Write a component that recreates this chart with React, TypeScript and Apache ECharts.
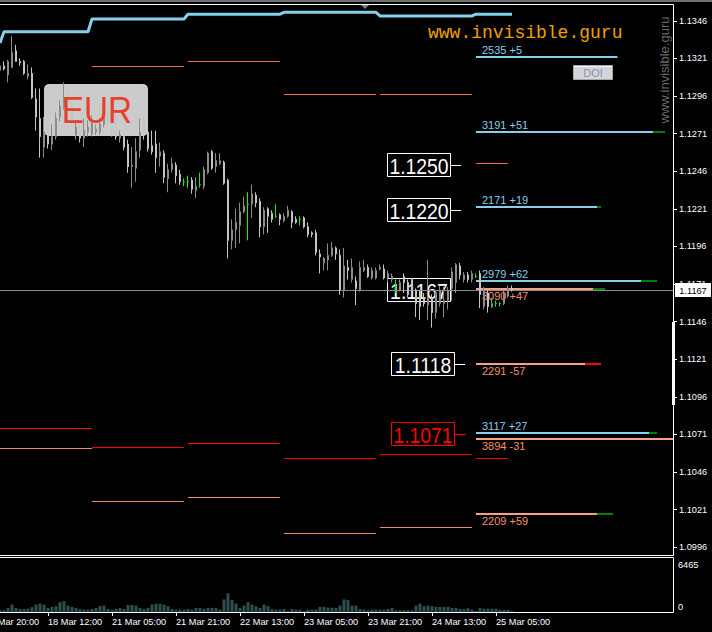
import React, { useEffect, useRef } from 'react';
import * as echarts from 'echarts';

// ---------- price bars (H1) ----------
const OPEN = [1.1313,1.1316,1.1310,1.1315,1.1326,1.1319,1.1319,1.1309,1.1311,1.1294,
 1.1281,1.1262,1.1271,1.1264,1.1269,1.1282,1.1289,1.1296,1.1290,1.1270,
 1.1273,1.1268,1.1272,1.1271,1.1272,1.1272,1.1277,1.1282,1.1279,1.1271,
 1.1268,1.1269,1.1264,1.1249,1.1248,1.1260,1.1280,1.1272,1.1263,1.1264,
 1.1256,1.1258,1.1241,1.1247,1.1250,1.1244,1.1239,1.1239,1.1240,1.1233,
 1.1237,1.1236,1.1245,1.1259,1.1249,1.1251,1.1252,1.1240,1.1200,1.1207,
 1.1210,1.1219,1.1224,1.1224,1.1230,1.1226,1.1209,1.1221,1.1218,1.1216,
 1.1217,1.1213,1.1216,1.1219,1.1214,1.1214,1.1215,1.1209,1.1205,1.1205,
 1.1191,1.1185,1.1187,1.1190,1.1195,1.1190,1.1167,1.1182,1.1174,1.1173,
 1.1167,1.1180,1.1182,1.1175,1.1175,1.1181,1.1181,1.1175,1.1174,1.1169,
 1.1167,1.1176,1.1172,1.1174,1.1167,1.1165,1.1162,1.1157,1.1162,1.1152,
 1.1158,1.1158,1.1160,1.1168,1.1172,1.1183,1.1174,1.1177,1.1174,1.1176,
 1.1178,1.1156,1.1165,1.1156,1.1158,1.1158,1.1158,1.1163,1.1168];
const CLOSE = [1.1316,1.1314,1.1319,1.1325,1.1319,1.1318,1.1311,1.1311,1.1295,1.1282,
 1.1269,1.1272,1.1264,1.1269,1.1281,1.1289,1.1295,1.1287,1.1278,1.1275,
 1.1268,1.1273,1.1275,1.1279,1.1274,1.1277,1.1281,1.1280,1.1271,1.1269,
 1.1270,1.1262,1.1249,1.1250,1.1259,1.1272,1.1270,1.1261,1.1259,1.1255,
 1.1259,1.1242,1.1247,1.1251,1.1243,1.1239,1.1239,1.1239,1.1234,1.1236,
 1.1237,1.1247,1.1258,1.1248,1.1253,1.1253,1.1238,1.1200,1.1207,1.1212,
 1.1219,1.1223,1.1224,1.1231,1.1225,1.1209,1.1220,1.1216,1.1214,1.1216,
 1.1214,1.1216,1.1220,1.1212,1.1212,1.1214,1.1209,1.1204,1.1204,1.1192,
 1.1189,1.1188,1.1190,1.1195,1.1191,1.1167,1.1183,1.1180,1.1182,1.1168,
 1.1182,1.1182,1.1176,1.1180,1.1180,1.1182,1.1175,1.1178,1.1176,1.1169,
 1.1172,1.1172,1.1164,1.1167,1.1158,1.1156,1.1158,1.1162,1.1152,1.1165,
 1.1167,1.1160,1.1167,1.1179,1.1184,1.1177,1.1177,1.1174,1.1178,1.1176,
 1.1164,1.1167,1.1156,1.1158,1.1158,1.1158,1.1165,1.1168,1.1167];
const LOW = [1.1312,1.1313,1.1305,1.1315,1.1319,1.1316,1.1310,1.1307,1.1294,1.1273,
 1.1255,1.1255,1.1261,1.1260,1.1267,1.1279,1.1287,1.1285,1.1276,1.1267,
 1.1265,1.1262,1.1269,1.1269,1.1270,1.1270,1.1275,1.1277,1.1269,1.1267,
 1.1265,1.1260,1.1245,1.1235,1.1239,1.1255,1.1267,1.1259,1.1257,1.1245,
 1.1249,1.1238,1.1232,1.1245,1.1238,1.1237,1.1236,1.1235,1.1231,1.1228,
 1.1235,1.1234,1.1244,1.1247,1.1245,1.1250,1.1237,1.1188,1.1194,1.1195,
 1.1198,1.1218,1.1200,1.1215,1.1222,1.1202,1.1204,1.1205,1.1212,1.1215,
 1.1210,1.1212,1.1215,1.1208,1.1211,1.1210,1.1208,1.1202,1.1202,1.1190,
 1.1178,1.1180,1.1180,1.1189,1.1187,1.1164,1.1162,1.1174,1.1172,1.1157,
 1.1166,1.1179,1.1175,1.1174,1.1174,1.1180,1.1174,1.1172,1.1172,1.1165,
 1.1166,1.1165,1.1162,1.1165,1.1149,1.1147,1.1156,1.1147,1.1142,1.1148,
 1.1156,1.1149,1.1154,1.1160,1.1165,1.1174,1.1172,1.1172,1.1172,1.1175,
 1.1155,1.1154,1.1152,1.1155,1.1156,1.1156,1.1157,1.1162,1.1166];
const HIGH = [1.1318,1.1319,1.1320,1.1336,1.1330,1.1321,1.1320,1.1317,1.1315,1.1301,
 1.1301,1.1282,1.1277,1.1277,1.1285,1.1293,1.1305,1.1300,1.1293,1.1280,
 1.1277,1.1281,1.1280,1.1283,1.1277,1.1281,1.1285,1.1287,1.1281,1.1283,
 1.1273,1.1271,1.1267,1.1262,1.1268,1.1281,1.1283,1.1275,1.1273,1.1273,
 1.1265,1.1260,1.1251,1.1255,1.1252,1.1247,1.1241,1.1243,1.1242,1.1242,
 1.1245,1.1249,1.1259,1.1260,1.1258,1.1258,1.1253,1.1241,1.1214,1.1221,
 1.1225,1.1229,1.1232,1.1237,1.1232,1.1228,1.1222,1.1222,1.1220,1.1224,
 1.1218,1.1218,1.1223,1.1220,1.1216,1.1216,1.1216,1.1212,1.1206,1.1207,
 1.1194,1.1189,1.1198,1.1199,1.1196,1.1194,1.1195,1.1187,1.1188,1.1176,
 1.1186,1.1187,1.1184,1.1182,1.1182,1.1184,1.1184,1.1180,1.1178,1.1174,
 1.1174,1.1178,1.1174,1.1175,1.1168,1.1167,1.1165,1.1187,1.1164,1.1167,
 1.1170,1.1169,1.1169,1.1182,1.1185,1.1185,1.1179,1.1179,1.1180,1.1178,
 1.1180,1.1169,1.1167,1.1162,1.1160,1.1159,1.1167,1.1170,1.1170];
const VOLUME = [280,210,490,890,490,370,370,400,570,890,
 1010,890,490,610,700,1180,1300,770,610,490,
 370,280,280,370,490,700,770,370,280,370,
 490,370,850,850,770,490,370,490,890,1010,
 980,890,700,370,280,280,280,370,280,490,
 490,400,490,490,490,280,1500,2230,1430,1010,
 490,770,1180,890,700,490,890,700,370,280,
 280,370,120,370,280,280,120,280,280,280,
 610,610,520,520,490,770,1500,1430,770,770,
 370,280,210,280,280,280,280,370,490,210,
 210,210,210,210,770,1010,700,770,700,610,
 610,610,610,490,490,370,370,450,280,120,
 490,400,400,400,400,240,240,240,90];

const BID = 1.1167;
const PRICE_MIN = 1.099084;
const PRICE_MAX = 1.135648;
const PRICE_TICKS = [1.0996,1.1021,1.1046,1.1071,1.1096,1.1121,1.1146,1.1171,1.1196,1.1221,1.1246,1.1271,1.1296,1.1321,1.1346];
const VOL_MAX = 6465;
const SLOT_COUNT = 169;
const TIME_LABELS = ['17 Mar 20:00','18 Mar 12:00','21 Mar 05:00','21 Mar 21:00','22 Mar 13:00','23 Mar 05:00','23 Mar 21:00','24 Mar 13:00','25 Mar 05:00'];
const TIME_FIRST = -4;
const TIME_STEP = 16;

// daily high envelope (light blue)
const HIGH_LINE = [[0,1.13312],[1,1.13387],[22,1.13387],[23,1.13472],[46,1.13472],[47,1.13504],[70,1.13504],[71,1.13516],[94,1.13516],[95,1.13492],[118,1.13492],[119,1.13504],[128,1.13504]];

// daily level segments: kind 0 = upper coral, 1 = red, 2 = lower salmon
const SEG_START = [23,47,71,95,119, 0,23,47,71,95,119, 0,23,47,71,95];
const SEG_END   = [46,70,94,118,127, 23,46,70,94,118,127, 23,46,70,94,118];
const SEG_PRICE = [1.13160,1.13193,1.12973,1.12973,1.12515, 1.10753,1.10626,1.10653,1.10553,1.10580,1.10553, 1.10620,1.10267,1.10294,1.10055,1.10095];
const SEG_KIND  = [0,0,0,0,0, 1,1,1,1,1,1, 2,2,2,2,2];
const SEG_COLORS = ['#f06a4c', '#ff0000', '#ec8a66'];

// right-side volume levels
const LEVEL_START = 119;
const LEVEL_PRICE = [1.13219,1.12720,1.12224,1.11727,1.11677,1.11180,1.10721,1.10680,1.10181];
const LEVEL_COUNT = [2535,3191,2171,2979,3090,2291,3117,3894,2209];
const LEVEL_DELTA = [5,51,19,62,47,-57,27,-31,59];
const LEVEL_SIDE  = [0,0,0,0,1,1,0,1,1]; // 0 blue (text above), 1 salmon (text below)
const LEVEL_LEN   = [35.25,44.25,30.25,41.25,29.25,27.25,43.25,49.25,30.25];
const LEVEL_TAIL  = [0.25,3,1,4,3,4,2,0,4];

// boxed price labels
const LABEL_PRICE = [1.1250,1.1220,1.1167,1.1118,1.1071];
const LABEL_IDX = [97,97,97,98,98];
const LABEL_RED = [0,0,0,0,1];

const FONT = '"Liberation Sans", Arial, Helvetica, sans-serif';

export default function App() {
  const ref = useRef<HTMLDivElement>(null);

  useEffect(() => {
    if (!ref.current) return;
    const chart = echarts.init(ref.current, undefined, { renderer: 'svg' });
    const cats = Array.from({ length: SLOT_COUNT }, (_, i) => String(i));
    const timeLabel = (i: number) => {
      const d = i - TIME_FIRST;
      if (d < 0 || d % TIME_STEP !== 0) return '';
      const n = d / TIME_STEP;
      return n < TIME_LABELS.length ? TIME_LABELS[n] : '';
    };
    const hasLabel = (i: number) => timeLabel(i) !== '';

    const doji = { color: '#00ff00', color0: '#00ff00', borderColor: '#00ff00', borderColor0: '#00ff00' };
    const candleData = OPEN.map((o, i) => {
      const item: any = { value: [o, CLOSE[i], LOW[i], HIGH[i]] };
      if (o === CLOSE[i]) item.itemStyle = doji;
      return item;
    });

    const option: any = {
      animation: false,
      backgroundColor: '#000000',
      grid: [
        { left: -2, right: 38, top: 5, height: 550, containLabel: false, outerBoundsMode: 'none' },
        { left: -2, right: 38, top: 558, height: 54, containLabel: false, outerBoundsMode: 'none' },
      ],
      xAxis: [
        { type: 'category', gridIndex: 0, data: cats, boundaryGap: true, show: false },
        {
          type: 'category', gridIndex: 1, data: cats, boundaryGap: true,
          axisLine: { show: false },
          axisTick: { show: true, alignWithLabel: true, interval: (i: number) => hasLabel(i), length: 4, lineStyle: { color: '#ffffff' } },
          axisLabel: {
            interval: (i: number) => hasLabel(i),
            formatter: (_v: string, i: number) => timeLabel(i),
            align: 'left', margin: 5, color: '#ffffff', fontSize: 9.2, fontFamily: FONT,
          },
          splitLine: { show: false },
        },
      ],
      yAxis: [
        {
          type: 'value', gridIndex: 0, position: 'right', min: PRICE_MIN, max: PRICE_MAX, scale: true,
          axisLine: { show: false },
          splitLine: { show: false },
          axisTick: { show: true, length: 3, customValues: PRICE_TICKS, lineStyle: { color: '#ffffff' } },
          axisLabel: {
            customValues: PRICE_TICKS, margin: 5, color: '#ffffff', fontSize: 9.2, fontFamily: FONT,
            formatter: (v: number) => v.toFixed(4),
          },
        },
        { type: 'value', gridIndex: 1, min: 0, max: VOL_MAX, show: false, splitLine: { show: false } },
      ],
      series: [
        {
          type: 'custom', name: 'labels', xAxisIndex: 0, yAxisIndex: 0, z: 1, clip: false,
          data: LABEL_PRICE.map((p, i) => [LABEL_IDX[i], p]),
          encode: { x: 0, y: 1 },
          renderItem: (params: any, api: any) => {
            const i = params.dataIndex;
            const c = api.coord([LABEL_IDX[i], LABEL_PRICE[i]]);
            const left = Math.round(c[0]) - 1;
            const cy = Math.round(c[1]);
            const col = LABEL_RED[i] ? '#ff0000' : '#ffffff';
            return {
              type: 'group',
              children: [
                { type: 'rect', shape: { x: left + 0.5, y: cy - 11.5, width: 63, height: 23 }, style: { fill: 'none', stroke: col, lineWidth: 1 } },
                { type: 'line', shape: { x1: left + 64, y1: cy + 0.5, x2: left + 74, y2: cy + 0.5 }, style: { stroke: col, lineWidth: 1 } },
                { type: 'text', x: left + 32, y: cy + 1, scaleX: 0.88, style: { text: LABEL_PRICE[i].toFixed(4), fill: col, fontSize: 22, fontFamily: FONT, align: 'center', verticalAlign: 'middle' } },
              ],
            };
          },
        },
        {
          type: 'custom', name: 'bidLine', xAxisIndex: 0, yAxisIndex: 0, z: 2, clip: false,
          data: [[0, BID]],
          encode: { x: 0, y: 1 },
          renderItem: (params: any, api: any) => {
            const c = api.coord([0, BID]);
            const y = Math.round(c[1]) + 0.5;
            return { type: 'line', shape: { x1: 0, y1: y, x2: 673, y2: y }, style: { stroke: '#7d8b99', lineWidth: 1 } };
          },
        },
        {
          type: 'custom', name: 'segments', xAxisIndex: 0, yAxisIndex: 0, z: 2, clip: true,
          data: SEG_START.map((s, i) => [s, SEG_END[i], SEG_PRICE[i], SEG_KIND[i]]),
          encode: { x: [0, 1], y: 2 },
          renderItem: (params: any, api: any) => {
            const i = params.dataIndex;
            const a = api.coord([SEG_START[i], SEG_PRICE[i]]);
            const b = api.coord([SEG_END[i], SEG_PRICE[i]]);
            const y = Math.round(a[1]) + 0.5;
            return { type: 'line', shape: { x1: a[0], y1: y, x2: b[0], y2: y }, style: { stroke: SEG_COLORS[SEG_KIND[i]], lineWidth: 1 } };
          },
        },
        {
          type: 'custom', name: 'levels', xAxisIndex: 0, yAxisIndex: 0, z: 2, clip: false,
          data: LEVEL_PRICE.map((p) => [LEVEL_START, p]),
          encode: { x: 0, y: 1 },
          renderItem: (params: any, api: any) => {
            const i = params.dataIndex;
            const c = api.coord([LEVEL_START, LEVEL_PRICE[i]]);
            const bw = api.size([1, 0])[0];
            const y = Math.round(c[1]);
            const x0 = c[0];
            const x1 = x0 + LEVEL_LEN[i] * bw;
            const x2 = x1 + LEVEL_TAIL[i] * bw;
            const blue = LEVEL_SIDE[i] === 0;
            const lineCol = blue ? '#87ceeb' : '#f8a284';
            const textCol = blue ? '#87ceeb' : '#f4906f';
            const d = LEVEL_DELTA[i];
            const children: any[] = [
              { type: 'line', shape: { x1: x0, y1: y, x2: x1, y2: y }, style: { stroke: lineCol, lineWidth: 2 } },
              { type: 'text', x: x0 + 6, y: blue ? y - 7 : y + 7, style: { text: `${LEVEL_COUNT[i]} ${d > 0 ? '+' : ''}${d}`, fill: textCol, fontSize: 11, fontFamily: FONT, align: 'left', verticalAlign: 'middle' } },
            ];
            if (LEVEL_TAIL[i] > 0) {
              children.push({ type: 'line', shape: { x1: x1, y1: y, x2: x2, y2: y }, style: { stroke: d > 0 ? '#008000' : '#ff0000', lineWidth: 2 } });
            }
            return { type: 'group', children };
          },
        },
        {
          type: 'line', name: 'dayHigh', xAxisIndex: 0, yAxisIndex: 0, z: 4,
          data: HIGH_LINE, symbol: 'none', showSymbol: false,
          lineStyle: { color: '#87ceeb', width: 3 },
        },
        {
          type: 'candlestick', name: 'EURUSD', xAxisIndex: 0, yAxisIndex: 0, z: 3,
          barWidth: 2,
          data: candleData,
          itemStyle: { color: '#000000', color0: '#ffffff', borderColor: '#8c8c8c', borderColor0: '#c4c4c4', borderWidth: 1 },
        },
        {
          type: 'bar', name: 'volume', xAxisIndex: 1, yAxisIndex: 1, z: 2,
          data: VOLUME, barWidth: 3, itemStyle: { color: '#2f4f4f' },
        },
        {
          type: 'custom', name: 'bid', xAxisIndex: 0, yAxisIndex: 0, z: 20, clip: false,
          data: [[SLOT_COUNT - 1, BID]],
          encode: { x: 0, y: 1 },
          renderItem: (params: any, api: any) => {
            const c = api.coord([SLOT_COUNT - 1, BID]);
            const right = params.coordSys.x + params.coordSys.width;
            const y = Math.round(c[1]);
            return {
              type: 'group',
              children: [
                { type: 'rect', shape: { x: right + 1, y: y - 7, width: 36, height: 14 }, style: { fill: '#ffffff' } },
                { type: 'text', x: right + 19, y: y + 0.5, style: { text: BID.toFixed(4), fill: '#000000', fontSize: 9.2, fontFamily: FONT, align: 'center', verticalAlign: 'middle' } },
              ],
            };
          },
        },
      ],
      graphic: [
        { type: 'rect', z: 30, shape: { x: 0, y: 0, width: 712, height: 2 }, style: { fill: '#6f6f6f' } },
        { type: 'line', z: 30, shape: { x1: 0, y1: 4.5, x2: 673.5, y2: 4.5 }, style: { stroke: '#ffffff', lineWidth: 1 } },
        { type: 'line', z: 30, shape: { x1: 673.5, y1: 4.5, x2: 673.5, y2: 555.5 }, style: { stroke: '#ffffff', lineWidth: 1 } },
        { type: 'line', z: 30, shape: { x1: 0, y1: 555.5, x2: 673.5, y2: 555.5 }, style: { stroke: '#ffffff', lineWidth: 1 } },
        { type: 'line', z: 30, shape: { x1: 0, y1: 557.5, x2: 673.5, y2: 557.5 }, style: { stroke: '#ffffff', lineWidth: 1 } },
        { type: 'line', z: 30, shape: { x1: 673.5, y1: 557.5, x2: 673.5, y2: 612.5 }, style: { stroke: '#ffffff', lineWidth: 1 } },
        { type: 'line', z: 30, shape: { x1: 0, y1: 612.5, x2: 673.5, y2: 612.5 }, style: { stroke: '#ffffff', lineWidth: 1 } },
        { type: 'rect', z: 30, shape: { x: 672, y: 322, width: 3, height: 83 }, style: { fill: '#ffffff' } },
        { type: 'polygon', z: 30, shape: { points: [[361, 5], [369, 5], [365, 9]] }, style: { fill: '#708090' } },
        { type: 'text', z: 30, x: 428, y: 33, style: { text: 'www.invisible.guru', fill: '#f0a000', fontSize: 18, fontFamily: '"Liberation Mono", "Courier New", monospace', verticalAlign: 'middle' } },
        { type: 'text', z: 30, x: 664, y: 70, rotation: Math.PI / 2, style: { text: 'www.invisible.guru', fill: '#6a6a6a', fontSize: 13, fontFamily: FONT, align: 'center', verticalAlign: 'middle' } },
        { type: 'rect', z: 30, shape: { x: 573.5, y: 65.5, width: 39, height: 14 }, style: { fill: '#d2d6dc', stroke: '#a8a8a8', lineWidth: 1 } },
        { type: 'line', z: 31, shape: { x1: 574, y1: 66.5, x2: 612, y2: 66.5 }, style: { stroke: '#f4f4f4', lineWidth: 1 } },
        { type: 'text', z: 31, x: 593, y: 73, style: { text: 'DOI', fill: '#8a94a6', fontSize: 11, fontFamily: FONT, align: 'center', verticalAlign: 'middle' } },
        { type: 'rect', z: 1, shape: { x: 44, y: 84, width: 104, height: 52, r: 5 }, style: { fill: '#cbcbcb' } },
        { type: 'text', z: 30, x: 97, y: 110, scaleX: 0.9, style: { text: 'EUR', fill: '#e8402e', fontSize: 37, fontFamily: FONT, align: 'center', verticalAlign: 'middle' } },
        { type: 'text', z: 30, x: -15, y: 622, style: { text: TIME_LABELS[0], fill: '#ffffff', fontSize: 9.2, fontFamily: FONT, verticalAlign: 'middle' } },
        { type: 'text', z: 30, x: 678, y: 565, style: { text: String(VOL_MAX), fill: '#ffffff', fontSize: 9.2, fontFamily: FONT, verticalAlign: 'middle' } },
        { type: 'text', z: 30, x: 678, y: 607, style: { text: '0', fill: '#ffffff', fontSize: 9.2, fontFamily: FONT, verticalAlign: 'middle' } },
      ],
    };

    chart.setOption(option);
    return () => chart.dispose();
  }, []);

  return <div ref={ref} style={{ position: 'fixed', left: 0, top: 0, width: 712, height: 632, background: '#000' }} />;
}
